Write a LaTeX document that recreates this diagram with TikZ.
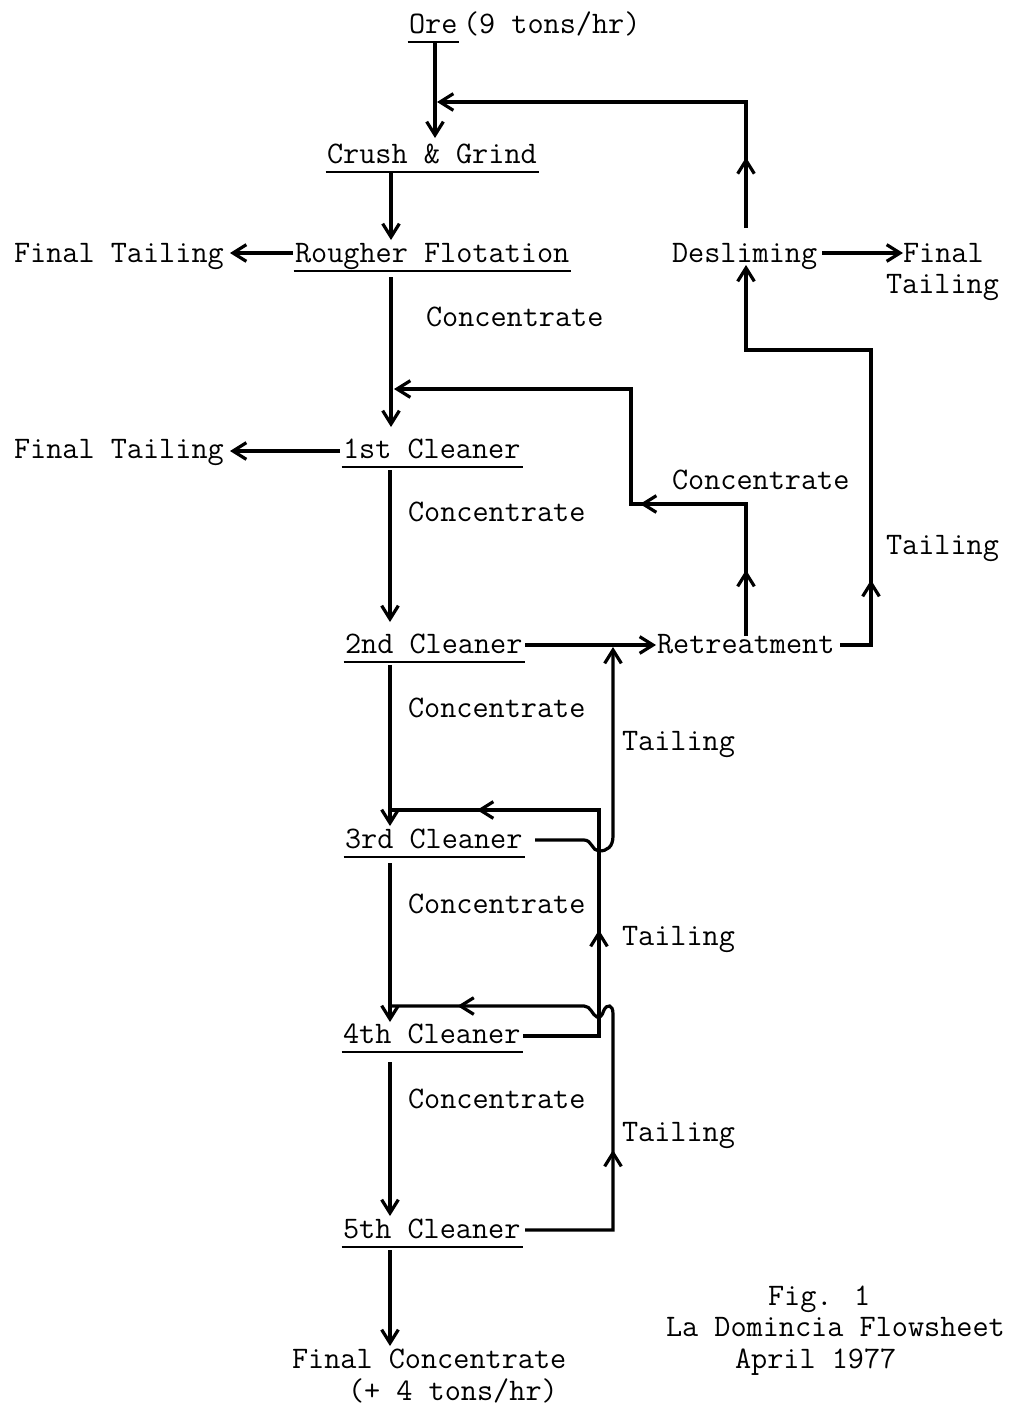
\documentclass[tikz,border=0pt]{standalone}
\usepackage{fontspec}
\usetikzlibrary{arrows.meta,decorations.markings}
\begin{document}
\begin{tikzpicture}[x=0.75pt,y=-0.75pt,
  txt/.style={anchor=base west,inner sep=0pt,outer sep=0pt,font=\fontsize{23.5}{28}\selectfont\ttfamily\addfontfeatures{FakeBold=0.6}},
  flow/.style={line width=2.4pt,line join=miter},
  arrowend/.style={-{Straight Barb[length=10pt,width=12.5pt]}},
  marr/.style={postaction={decorate,decoration={markings,mark=at position #1 with {\arrow{Straight Barb[length=10pt,width=12.5pt]}}}}},
  uline/.style={line width=1.2pt}]
\useasboundingbox (0,0) rectangle (1010,1410);

% ---------- texts ----------
\node[txt] (ore) at (409,33) {Ore};
\node[txt] (orer) at (463,33) {(9 tons/hr)};
\node[txt] (crush) at (327,163) {Crush \& Grind};
\node[txt] (rough) at (295,262) {Rougher Flotation};
\node[txt] (ft1) at (14,262) {Final Tailing};
\node[txt] (desl) at (672,262) {Desliming};
\node[txt] (ft3a) at (903,262) {Final};
\node[txt] (ft3b) at (886,293) {Tailing};
\node[txt] (conc1) at (426,326) {Concentrate};
\node[txt] (c1) at (343,458) {1st Cleaner};
\node[txt] (ft2) at (14,458) {Final Tailing};
\node[txt] (conc2) at (408,521) {Concentrate};
\node[txt] (concR) at (672,489) {Concentrate};
\node[txt] (tailR) at (886,554) {Tailing};
\node[txt] (c2) at (345,653) {2nd Cleaner};
\node[txt] (retr) at (657,653) {Retreatment};
\node[txt] (conc3) at (408,717) {Concentrate};
\node[txt] (tail2) at (622,750) {Tailing};
\node[txt] (c3) at (345,848) {3rd Cleaner};
\node[txt] (conc4) at (408,913) {Concentrate};
\node[txt] (tail3) at (622,945) {Tailing};
\node[txt] (c4) at (343,1043) {4th Cleaner};
\node[txt] (conc5) at (408,1108) {Concentrate};
\node[txt] (tail4) at (622,1141) {Tailing};
\node[txt] (c5) at (343,1238) {5th Cleaner};
\node[txt] (finc) at (292,1368) {Final Concentrate};
\node[txt] (finr) at (348,1400) {(+ 4 tons/hr)};
\node[txt] (fig) at (768,1305) {Fig. 1};
\node[txt] (figt) at (666,1336) {La Domincia Flowsheet};
\node[txt] (figd) at (735,1368) {April 1977};

% ---------- underlines ----------
\foreach \n in {ore,crush,rough,c1,c2,c3,c4,c5}
  \draw[uline] ([xshift=-1pt,yshift=-6.75pt]\n.base west) -- ([xshift=1.5pt,yshift=-6.75pt]\n.base east);

% ---------- junction coordinates ----------
\coordinate (o1) at (435,43);   \coordinate (o2) at (435,138);
\coordinate (d1) at (746,228);  \coordinate (d2) at (746,102);  \coordinate (j0) at (437,102);
\coordinate (g1) at (391,172);  \coordinate (g2) at (391,240);
\coordinate (r1) at (293,253);  \coordinate (r2) at (230,253);
\coordinate (r3) at (391,277);  \coordinate (r4) at (391,427);
\coordinate (q1) at (746,636);  \coordinate (q2) at (746,504);  \coordinate (q3) at (631,504);
\coordinate (q4) at (631,389);  \coordinate (q5) at (394,389);
\coordinate (k1) at (340,451);  \coordinate (k2) at (230,451);
\coordinate (k3) at (390,470);  \coordinate (k4) at (390,622);
\coordinate (s1) at (525,645);  \coordinate (s2) at (656,645);
\coordinate (t1) at (840,645);  \coordinate (t2) at (871,645);  \coordinate (t3) at (871,350);
\coordinate (t4) at (746,350);  \coordinate (t5) at (746,265);
\coordinate (e1) at (822,253);  \coordinate (e2) at (903,253);
\coordinate (m1) at (390,665);  \coordinate (m2) at (390,826);
\coordinate (a1) at (523,1036); \coordinate (a2) at (599,1036); \coordinate (a3) at (599,810);
\coordinate (a4) at (390,810);
\coordinate (b1) at (535,840);  \coordinate (b2) at (584,840);  \coordinate (b3) at (613,836);
\coordinate (b4) at (613,647);
\coordinate (m3) at (390,863);  \coordinate (m4) at (390,1022);
\coordinate (h1) at (525,1230); \coordinate (h2) at (613,1230); \coordinate (h3) at (613,1014);
\coordinate (h4) at (584,1006); \coordinate (h5) at (390,1006);
\coordinate (m5) at (390,1062); \coordinate (m6) at (390,1216);
\coordinate (m7) at (390,1250); \coordinate (m8) at (390,1346);

% ---------- connectors ----------
\draw[flow,arrowend] (o1) -- (o2);
\draw[flow,arrowend,marr=53pt] (d1) -- (d2) -- (j0);
\draw[flow,arrowend] (g1) -- (g2);
\draw[flow,arrowend] (r1) -- (r2);
\draw[flow,arrowend] (r3) -- (r4);
\draw[flow,arrowend,marr=49.5pt,marr=178.5pt] (q1) -- (q2) -- (q3) -- (q4) -- (q5);
\draw[flow,arrowend] (k1) -- (k2);
\draw[flow,arrowend] (k3) -- (k4);
\draw[flow,arrowend] (s1) -- (s2);
\draw[flow,arrowend,marr=72pt] (t1) -- (t2) -- (t3) -- (t4) -- (t5);
\draw[flow,arrowend] (e1) -- (e2);
\draw[flow,arrowend] (m1) -- (m2);
\draw[flow,marr=136.5pt,marr=318pt] (a1) -- (a2) -- (a3) -- (a4);
\draw[flow,arrowend] (b1) -- (b2) .. controls (592,840) and (592,851) .. (599,851)
   .. controls (607,851) and (613,847) .. (b3) -- (b4);
\draw[flow,arrowend] (m3) -- (m4);
\draw[flow,marr=126pt,marr=357pt] (h1) -- (h2) -- (h3)
   .. controls (613,1004) and (607,1004) .. (604,1010)
   .. controls (602,1016) and (600,1018) .. (597,1017)
   .. controls (592,1015) and (591,1006) .. (h4) -- (h5);
\draw[flow,arrowend] (m5) -- (m6);
\draw[flow,arrowend] (m7) -- (m8);
\end{tikzpicture}
\end{document}
